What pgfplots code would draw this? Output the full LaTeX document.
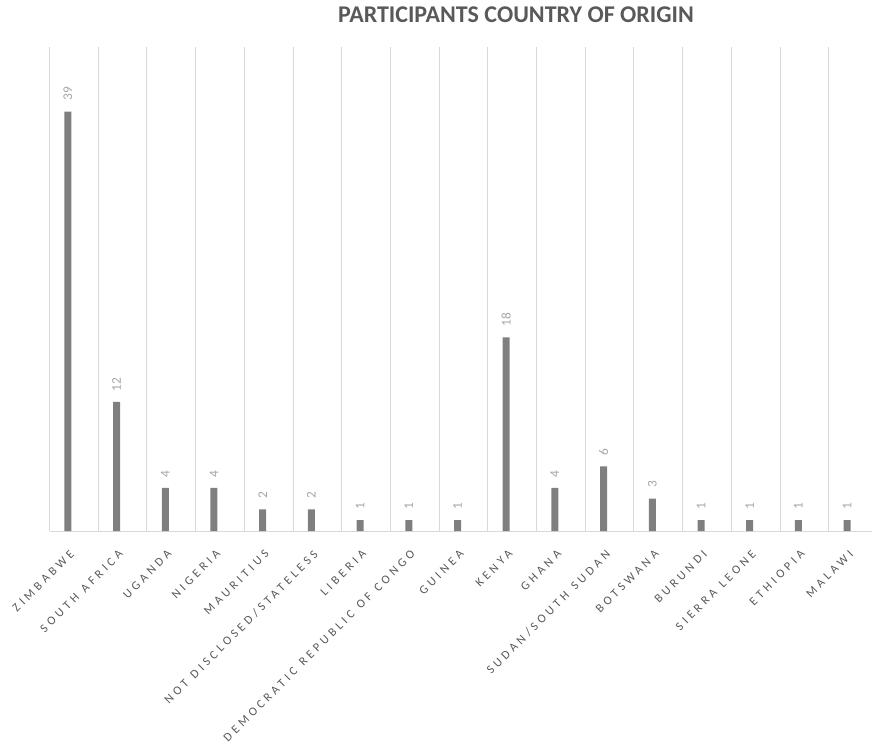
\documentclass[border=0pt]{standalone}
\usepackage{fontspec}
\setmainfont{Carlito}
\newfontfamily\spacedfont[LetterSpace=30,WordSpace=1.2]{Carlito}
\usepackage{pgfplots}
\pgfplotsset{compat=1.18}

\definecolor{barcol}{HTML}{7F7F7F}
\definecolor{gridcol}{HTML}{D9D9D9}
\definecolor{labcol}{HTML}{595959}
\definecolor{valcol}{HTML}{A6A6A6}

\begin{document}
\begin{tikzpicture}[x=0.75pt,y=0.75pt]
\begin{axis}[
  at={(37.125pt,162pt)}, anchor=south west,
  scale only axis, width=621pt, height=363pt,
  xmin=-0.5, xmax=16.5, ymin=0, ymax=45,
  axis x line*=bottom, axis y line=none,
  x axis line style={gridcol, line width=0.75pt, -},
  ytick=\empty,
  xtick={0,...,16},
  xticklabels={ZIMBABWE, SOUTH AFRICA, UGANDA, NIGERIA, MAURITIUS,
    NOT DISCLOSED/STATELESS, LIBERIA, DEMOCRATIC REPUBLIC OF CONGO,
    GUINEA, KENYA, GHANA, SUDAN/SOUTH SUDAN, BOTSWANA, BURUNDI,
    SIERRA LEONE, ETHIOPIA, MALAWI},
  xticklabel style={xshift=-3.5pt, yshift=-13.5pt, rotate=45, anchor=north east,
    inner sep=0pt, font=\spacedfont\fontsize{9.1}{9.1}\selectfont, text=labcol},
  major tick length=0pt, minor tick length=0pt,
  minor xtick={-0.5,0.5,...,16.5},
  xminorgrids=true,
  minor grid style={gridcol, line width=0.75pt},
  ybar, bar width=5.25pt, bar shift=-4.5pt,
  /pgf/number format/assume math mode=true,
  nodes near coords,
  every node near coord/.append style={yshift=8pt, rotate=90, anchor=west,
    inner sep=0pt, font=\fontsize{10}{10}\selectfont, text=valcol},
  clip=false,
]
\addplot[fill=barcol, draw=none] coordinates {
  (0,39) (1,12) (2,4) (3,4) (4,2) (5,2) (6,1) (7,1) (8,1)
  (9,18) (10,4) (11,6) (12,3) (13,1) (14,1) (15,1) (16,1)
};
\end{axis}
\node[font=\bfseries\fontsize{18}{18}\selectfont, text=labcol] at (516,732)
  {PARTICIPANTS COUNTRY OF ORIGIN};
\pgfresetboundingbox
\useasboundingbox (0,0) rectangle (872,747);
\end{tikzpicture}
\end{document}
